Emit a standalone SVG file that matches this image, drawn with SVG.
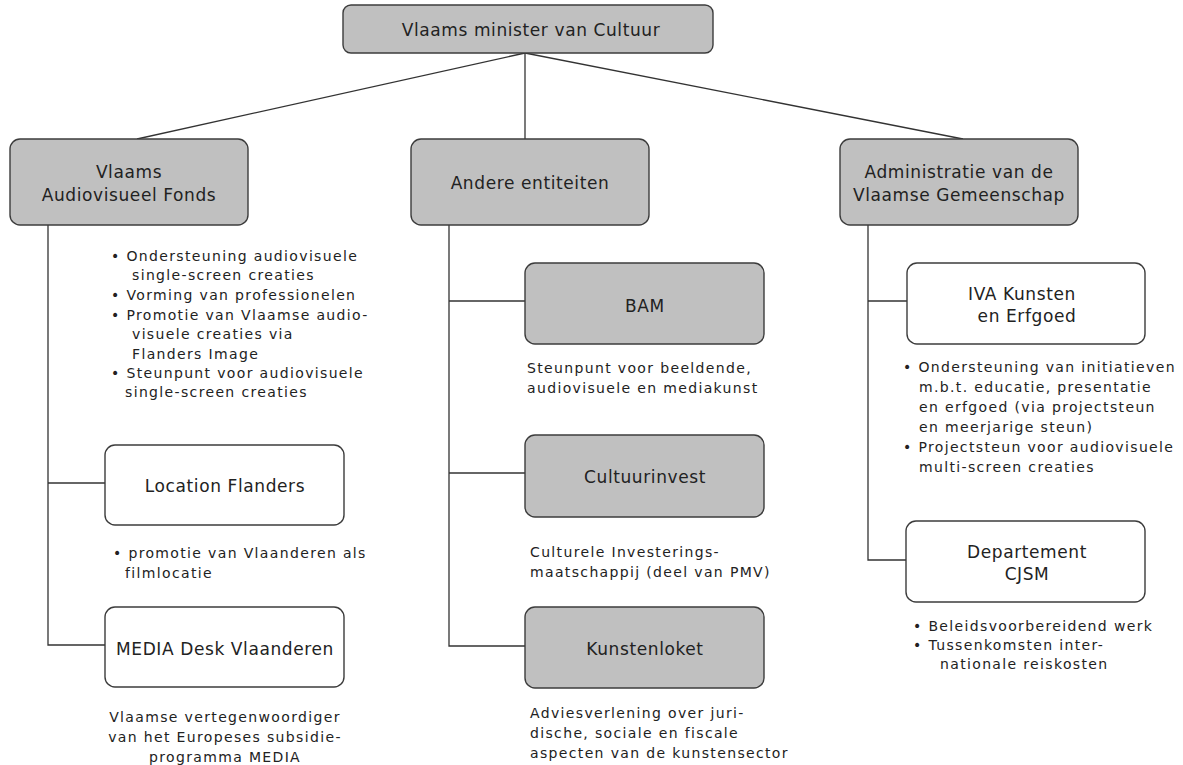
<svg xmlns="http://www.w3.org/2000/svg" width="1183" height="765" viewBox="0 0 1183 765">
<style>
.g{fill:#c0c0c0;stroke:#3c3c3c;stroke-width:1.4}
.w{fill:#ffffff;stroke:#3c3c3c;stroke-width:1.4}
.lbl{font-family:"DejaVu Sans",Verdana,sans-serif;font-size:17px;fill:#222;text-anchor:middle;letter-spacing:0.6px}
.t{font-family:"DejaVu Sans",Verdana,sans-serif;font-size:14px;fill:#222;letter-spacing:1.35px}
.c{text-anchor:middle}
.con{stroke:#333;stroke-width:1.3;fill:none}
</style>
<rect width="1183" height="765" fill="#ffffff"/>
<g id="connectors" class="con">
<line x1="525" y1="53" x2="137" y2="139"/>
<line x1="525" y1="53" x2="525" y2="139"/>
<line x1="525" y1="53" x2="963" y2="139"/>
<polyline points="48,225 48,645 105,645"/>
<line x1="48" y1="483" x2="105" y2="483"/>
<polyline points="449,225 449,646 525,646"/>
<line x1="449" y1="301" x2="525" y2="301"/>
<line x1="449" y1="473" x2="525" y2="473"/>
<polyline points="868,225 868,560 906,560"/>
<line x1="868" y1="301" x2="907" y2="301"/>
</g>
<g id="minister">
<rect class="g" x="343" y="5" width="370" height="48" rx="8"/>
<text class="lbl" x="531" y="36">Vlaams minister van Cultuur</text>
</g>
<g id="vaf">
<rect class="g" x="10" y="139" width="238" height="86" rx="10"/>
<text class="lbl" x="129" y="178">Vlaams</text>
<text class="lbl" x="129" y="201">Audiovisueel Fonds</text>
<text class="t" x="111" y="261">• Ondersteuning audiovisuele</text>
<text class="t" x="132" y="280">single-screen creaties</text>
<text class="t" x="111" y="300">• Vorming van professionelen</text>
<text class="t" x="111" y="320">• Promotie van Vlaamse audio-</text>
<text class="t" x="132" y="339">visuele creaties via</text>
<text class="t" x="132" y="359">Flanders Image</text>
<text class="t" x="111" y="378">• Steunpunt voor audiovisuele</text>
<text class="t" x="125" y="397">single-screen creaties</text>
</g>
<g id="andere">
<rect class="g" x="411" y="139" width="238" height="86" rx="10"/>
<text class="lbl" x="530" y="189">Andere entiteiten</text>
</g>
<g id="admin">
<rect class="g" x="840" y="139" width="238" height="86" rx="10"/>
<text class="lbl" x="959" y="178">Administratie van de</text>
<text class="lbl" x="959" y="201">Vlaamse Gemeenschap</text>
</g>
<g id="location">
<rect class="w" x="105" y="445" width="239" height="80" rx="10"/>
<text class="lbl" x="225" y="492">Location Flanders</text>
<text class="t" x="113" y="558">• promotie van Vlaanderen als</text>
<text class="t" x="125" y="578">filmlocatie</text>
</g>
<g id="media">
<rect class="w" x="105" y="607" width="239" height="80" rx="10"/>
<text class="lbl" x="225" y="655">MEDIA Desk Vlaanderen</text>
<text class="t c" x="225" y="722">Vlaamse vertegenwoordiger</text>
<text class="t c" x="225" y="742">van het Europeses subsidie-</text>
<text class="t c" x="225" y="762">programma MEDIA</text>
</g>
<g id="bam">
<rect class="g" x="525" y="263" width="239" height="81" rx="10"/>
<text class="lbl" x="645" y="312">BAM</text>
<text class="t" x="527" y="373">Steunpunt voor beeldende,</text>
<text class="t" x="527" y="393">audiovisuele en mediakunst</text>
</g>
<g id="cultuurinvest">
<rect class="g" x="525" y="435" width="239" height="82" rx="10"/>
<text class="lbl" x="645" y="483">Cultuurinvest</text>
<text class="t" x="530" y="557">Culturele Investerings-</text>
<text class="t" x="530" y="577">maatschappij (deel van PMV)</text>
</g>
<g id="kunstenloket">
<rect class="g" x="525" y="607" width="239" height="81" rx="10"/>
<text class="lbl" x="645" y="655">Kunstenloket</text>
<text class="t" x="530" y="718">Adviesverlening over juri-</text>
<text class="t" x="530" y="738">dische, sociale en fiscale</text>
<text class="t" x="530" y="758">aspecten van de kunstensector</text>
</g>
<g id="iva">
<rect class="w" x="907" y="263" width="238" height="81" rx="10"/>
<text class="lbl" x="1022" y="300">IVA Kunsten</text>
<text class="lbl" x="1027" y="322">en Erfgoed</text>
<text class="t" x="903" y="372">• Ondersteuning van initiatieven</text>
<text class="t" x="919" y="392">m.b.t. educatie, presentatie</text>
<text class="t" x="919" y="412">en erfgoed (via projectsteun</text>
<text class="t" x="919" y="432">en meerjarige steun)</text>
<text class="t" x="903" y="452">• Projectsteun voor audiovisuele</text>
<text class="t" x="919" y="472">multi-screen creaties</text>
</g>
<g id="departement">
<rect class="w" x="906" y="521" width="239" height="81" rx="10"/>
<text class="lbl" x="1027" y="558">Departement</text>
<text class="lbl" x="1027" y="580">CJSM</text>
<text class="t" x="913" y="631">• Beleidsvoorbereidend werk</text>
<text class="t" x="913" y="650">• Tussenkomsten inter-</text>
<text class="t" x="940" y="669">nationale reiskosten</text>
</g>
</svg>
